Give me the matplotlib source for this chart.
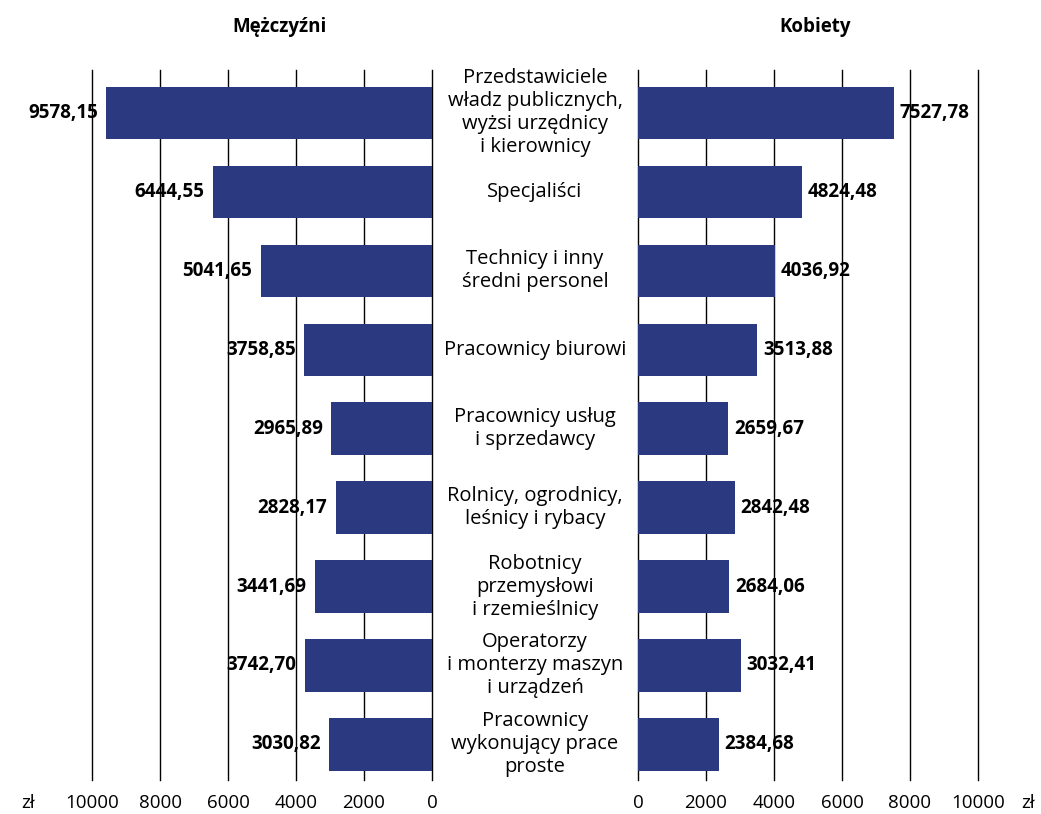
import matplotlib
matplotlib.use("Agg")
import matplotlib.pyplot as plt
from matplotlib import font_manager as fm

categories = [
    "Przedstawiciele\nwładz publicznych,\nwyżsi urzędnicy\ni kierownicy",
    "Specjaliści",
    "Technicy i inny\nśredni personel",
    "Pracownicy biurowi",
    "Pracownicy usług\ni sprzedawcy",
    "Rolnicy, ogrodnicy,\nleśnicy i rybacy",
    "Robotnicy\nprzemysłowi\ni rzemieślnicy",
    "Operatorzy\ni monterzy maszyn\ni urządzeń",
    "Pracownicy\nwykonujący prace\nproste",
]
men = [9578.15, 6444.55, 5041.65, 3758.85, 2965.89, 2828.17, 3441.69, 3742.70, 3030.82]
women = [7527.78, 4824.48, 4036.92, 3513.88, 2659.67, 2842.48, 2684.06, 3032.41, 2384.68]
ticks = [0, 2000, 4000, 6000, 8000, 10000]

names = {f.name for f in fm.fontManager.ttflist}
main_font = "Open Sans" if "Open Sans" in names else "DejaVu Sans"
plt.rcParams['font.family'] = [main_font, 'DejaVu Sans']

color = '#2b3a80'
W, H = 1041, 814
fig = plt.figure(figsize=(W / 100, H / 100), dpi=100)

y0, y1 = 70, 780
axL = fig.add_axes([92 / W, (H - y1) / H, 340 / W, (y1 - y0) / H])
axR = fig.add_axes([638 / W, (H - y1) / H, 340 / W, (y1 - y0) / H])

def fmt(v):
    return f"{v:.2f}".replace(".", ",")

pos = list(range(len(categories)))
for ax, vals, side in [(axL, men, 'L'), (axR, women, 'R')]:
    ax.barh(pos, vals, height=0.66, color=color, zorder=3)
    ax.set_ylim(8.45, -0.54)
    if side == 'L':
        ax.set_xlim(10000, 0)
    else:
        ax.set_xlim(0, 10000)
    ax.set_xticks(ticks)
    ax.set_xticklabels([str(t) for t in ticks], fontsize=13.5)
    ax.tick_params(axis='x', length=0, pad=10)
    ax.tick_params(axis='y', length=0, labelleft=False)
    for s in ax.spines.values():
        s.set_visible(False)
    for t in ticks:
        ax.axvline(t, color='black', lw=1.0, zorder=1, clip_on=False)
    for i, v in enumerate(vals):
        if side == 'L':
            ax.annotate(fmt(v), (v, i), xytext=(-6, 0), textcoords='offset points',
                        ha='right', va='center', fontsize=13.5, fontweight='bold', zorder=4)
        else:
            ax.annotate(fmt(v), (v, i), xytext=(4, 0), textcoords='offset points',
                        ha='left', va='center', fontsize=13.5, fontweight='bold', zorder=4)

for i, c in enumerate(categories):
    y = axL.transData.transform((0, i))[1]
    fx, fy = 535 / W, y / H
    fig.text(fx, fy, c, ha='center', va='center', fontsize=14.5, linespacing=1.2)

fig.text(280 / W, 1 - 27 / H, "Mężczyźni", ha='center', va='center', fontsize=13.5, fontweight='bold')
fig.text(815 / W, 1 - 27 / H, "Kobiety", ha='center', va='center', fontsize=13.5, fontweight='bold')
fig.text(28 / W, 1 - 803 / H, "zł", ha='center', va='center', fontsize=13.5)
fig.text(1028 / W, 1 - 803 / H, "zł", ha='center', va='center', fontsize=13.5)

fig.savefig("out.png", dpi=100)
